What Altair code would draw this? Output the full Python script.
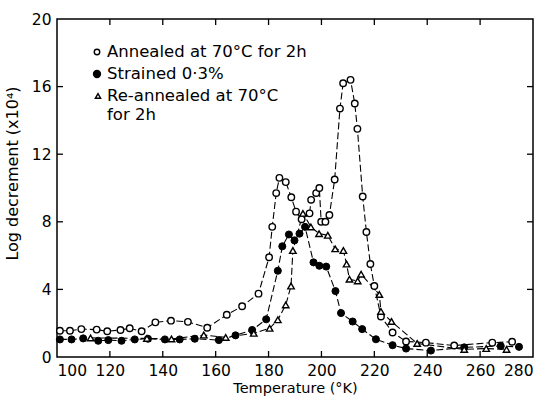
import altair as alt
import pandas as pd

# ---- data ----
ann_T = [101.1, 104.9, 109.2, 115.0, 119.0, 124.0, 127.5, 132.0, 137.2, 143.1, 149.5, 156.8,
         164.2, 170.0, 176.2, 180.2, 181.4, 182.9, 184.1, 186.5, 188.6, 190.4, 192.5, 195.5,
         196.1, 198.0, 199.2, 199.9, 201.5, 203.0, 205.0, 207.0, 208.2, 211.0, 212.6, 213.6,
         215.6, 217.0, 218.5, 220.0, 222.5, 226.9, 232.0, 239.5, 250.2, 264.6, 272.1]
ann_V = [1.55, 1.55, 1.65, 1.62, 1.52, 1.60, 1.70, 1.52, 2.05, 2.15, 2.08, 1.73,
         2.50, 3.00, 3.75, 5.90, 7.70, 9.70, 10.60, 10.35, 9.45, 8.60, 8.15, 8.50,
         9.30, 9.70, 10.00, 8.00, 8.00, 8.40, 10.50, 14.70, 16.20, 16.40, 15.00, 13.50,
         9.50, 7.40, 5.50, 4.20, 2.40, 1.45, 0.92, 0.85, 0.68, 0.85, 0.90]

str_T = [101.1, 105.5, 109.9, 115.6, 119.4, 124.4, 129.4, 134.4, 140.8, 146.4, 152.1, 161.2,
         167.5, 173.8, 179.1, 183.5, 185.2, 187.7, 189.8, 191.7, 193.8, 197.0, 199.2, 201.8,
         205.3, 207.4, 211.8, 215.4, 220.6, 226.9, 232.0, 241.4, 254.0, 267.8, 274.7]
str_V = [1.04, 1.04, 1.10, 0.96, 1.00, 0.96, 1.04, 1.08, 1.04, 1.04, 1.08, 1.00,
         1.28, 1.60, 2.23, 5.10, 6.55, 7.25, 6.90, 7.30, 7.70, 5.60, 5.40, 5.35,
         3.90, 2.60, 2.10, 1.65, 1.05, 0.70, 0.50, 0.38, 0.57, 0.65, 0.60]

rea_T = [112.7, 134.0, 143.3, 155.5, 163.8, 174.4, 180.4, 183.5, 186.5, 188.5, 189.2, 193.0,
         196.0, 199.1, 202.4, 205.2, 208.3, 209.5, 210.6, 213.7, 215.0, 221.9, 222.5, 226.5,
         236.2, 254.0, 262.3, 270.0]
rea_V = [1.13, 1.10, 1.07, 1.30, 1.16, 1.40, 1.70, 2.20, 3.08, 4.20, 6.30, 8.50,
         7.70, 7.30, 7.20, 6.40, 6.30, 5.50, 4.60, 4.50, 4.90, 3.70, 2.70, 2.10,
         0.80, 0.45, 0.50, 0.45]

x_ticks = [100, 120, 140, 160, 180, 200, 220, 240, 260, 280]
y_ticks = [0, 4, 8, 12, 16, 20]
legend_labels = ["Annealed at 70°C for 2h", "Strained 0·3%", "Re-annealed at 70°C", "for 2h"]

# ---- build ----
W, H = 476, 338
FONT = "DejaVu Sans"
xs = alt.Scale(domain=[100, 280], nice=False)
ys = alt.Scale(domain=[0, 20], nice=False)

def frame(T, V, name):
    return pd.DataFrame({"T": T, "V": V, "series": name})

ann = frame(ann_T, ann_V, "ann")
stn = frame(str_T, str_V, "str")
rea = frame(rea_T, rea_V, "rea")
alld = pd.concat([ann, stn, rea])

xa = alt.Axis(values=x_ticks, ticks=False, domain=False, grid=False, labelFontSize=15.5,
              labelPadding=6, labelFont=FONT, labelColor="black", title="Temperature (°K)",
              titleFont=FONT, titleFontSize=14.5, titleFontWeight="normal", titlePadding=3,
              titleColor="black")
ya = alt.Axis(values=y_ticks, ticks=False, domain=False, grid=False, labelFontSize=15.5,
              labelPadding=6, labelFont=FONT, labelColor="black", title="Log decrement (x10⁴)",
              titleFont=FONT, titleFontSize=16, titleFontWeight="normal", titleColor="black",
              titleX=-37, titleY=154)

X = alt.X("T:Q", scale=xs, axis=xa)
Y = alt.Y("V:Q", scale=ys, axis=ya)

lines = alt.Chart(alld).mark_line(color="black", strokeWidth=1.1, strokeDash=[7, 3]).encode(
    x=X, y=Y, detail="series:N", order="T:Q",
)

p_ann = alt.Chart(ann).mark_point(shape="circle", filled=True, fill="white", stroke="black",
                                  strokeWidth=1.4, size=42, opacity=1).encode(x=X, y=Y)
p_str = alt.Chart(stn).mark_point(shape="circle", filled=True, fill="black", stroke="black",
                                  strokeWidth=1, size=50, opacity=1).encode(x=X, y=Y)
p_rea = alt.Chart(rea).mark_point(shape="triangle-up", filled=True, fill="white", stroke="black",
                                  strokeWidth=1.4, size=42, opacity=1).encode(x=X, y=Y)

# inward ticks on all four sides
xt = pd.DataFrame({"T": x_ticks[1:-1]})
yt = pd.DataFrame({"V": y_ticks[1:-1]})
tk = dict(color="black", strokeWidth=1.3)
t_bot = alt.Chart(xt).mark_rule(**tk).encode(x=X, y=alt.value(H), y2=alt.value(H - 6))
t_top = alt.Chart(xt).mark_rule(**tk).encode(x=X, y=alt.value(0), y2=alt.value(6))
t_left = alt.Chart(yt).mark_rule(**tk).encode(y=Y, x=alt.value(0), x2=alt.value(6))
t_right = alt.Chart(yt).mark_rule(**tk).encode(y=Y, x=alt.value(W), x2=alt.value(W - 6))

# legend
one = pd.DataFrame({"k": [0]})
lx, ltx = 40, 50
l1 = alt.Chart(one).mark_point(shape="circle", filled=True, fill="white", stroke="black",
                               strokeWidth=1.4, size=30, opacity=1).encode(x=alt.value(lx), y=alt.value(33))
l2 = alt.Chart(one).mark_point(shape="circle", filled=True, fill="black", stroke="black",
                               size=40, opacity=1).encode(x=alt.value(lx), y=alt.value(55))
l3 = alt.Chart(one).mark_point(shape="triangle-up", filled=True, fill="white", stroke="black",
                               strokeWidth=1.4, size=28, opacity=1).encode(x=alt.value(lx + 1), y=alt.value(77))
txt = dict(align="left", baseline="middle", font=FONT, fontSize=16.5, color="black")
lt1 = alt.Chart(one).mark_text(**txt).encode(x=alt.value(ltx), y=alt.value(33), text=alt.value(legend_labels[0]))
lt2 = alt.Chart(one).mark_text(**txt).encode(x=alt.value(ltx), y=alt.value(55), text=alt.value(legend_labels[1]))
lt3 = alt.Chart(one).mark_text(**txt).encode(x=alt.value(ltx), y=alt.value(77), text=alt.value(legend_labels[2]))
lt4 = alt.Chart(one).mark_text(**txt).encode(x=alt.value(ltx), y=alt.value(96), text=alt.value(legend_labels[3]))

chart = alt.layer(lines, p_ann, p_str, p_rea, t_bot, t_top, t_left, t_right,
                  l1, l2, l3, lt1, lt2, lt3, lt4).properties(
    width=W, height=H,
    autosize=alt.AutoSizeParams(type="none"),
    padding={"left": 57, "top": 19, "right": 18, "bottom": 48},
    background="white",
).configure_view(stroke="black", strokeWidth=1.5)

chart.save("out.html", embed_options={"renderer": "svg", "actions": False})
